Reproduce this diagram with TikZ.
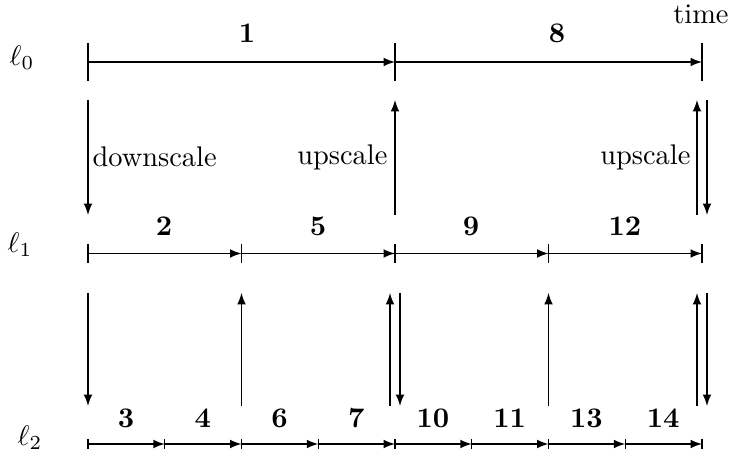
\documentclass[tikz,border=0pt]{standalone}
\usetikzlibrary{arrows}

\begin{document}
\begin{tikzpicture}[x=0.352pt, y=-0.352pt, >=latex,
  seg/.style={->},
  scalearrow/.style={->},
  lvl/.style={anchor=center, inner sep=0pt},
  idx/.style={anchor=center, inner sep=0pt, font=\bfseries},
  word/.style={inner sep=0pt}]

  %% ==== tick points of the three levels ====
  \foreach \i/\x in {0/88,1/395,2/702} \coordinate (a\i) at (\x,62);
  \foreach \i/\x in {0/88,1/241.5,2/395,3/548.5,4/702} \coordinate (b\i) at (\x,253.5);
  \foreach \i in {0,...,8} \coordinate (c\i) at (88+76.75*\i,444);

  %% ==== ticks ====
  \foreach \i in {0,1,2} \draw ([shift={(0,-19)}]a\i) -- ([shift={(0,19)}]a\i);
  \foreach \i in {0,...,4} \draw ([shift={(0,-9.5)}]b\i) -- ([shift={(0,9.5)}]b\i);
  \foreach \i in {0,...,8} \draw ([shift={(0,-5)}]c\i) -- ([shift={(0,5)}]c\i);

  %% ==== segments ====
  \draw[seg] (a0) -- (a1);
  \draw[seg] (a1) -- (a2);
  \foreach \i [evaluate=\i as \j using int(\i+1)] in {0,...,3} \draw[seg] (b\i) -- (b\j);
  \foreach \i [evaluate=\i as \j using int(\i+1)] in {0,...,7} \draw[seg] (c\i) -- (c\j);

  %% ==== level names ====
  \node[lvl] (l0) at (22,58) {$\ell_0$};
  \node[lvl] (l1) at (20,245) {$\ell_1$};
  \node[lvl] (l2) at (30,438) {$\ell_2$};
  \node[word] (time) at (701,14) {time};

  %% ==== step numbers ====
  \node[idx] (n1) at (247,33) {1};
  \node[idx] (n8) at (557,33) {8};
  \node[idx] (n2) at (164,226) {2};
  \node[idx] (n5) at (318,226) {5};
  \node[idx] (n9) at (471,226) {9};
  \node[idx] (n12) at (625,226) {12};
  \foreach \t [count=\k from 0] in {3,4,6,7,10,11,13,14}
    \node[idx] (m\t) at (126+76.75*\k,418) {\t};

  %% ==== level changes  l0 <-> l1 ====
  \coordinate (d0t) at (88,100);  \coordinate (d0b) at (88,215);
  \coordinate (u1t) at (395,100); \coordinate (u1b) at (395,215);
  \coordinate (u2t) at (697,100); \coordinate (u2b) at (697,215);
  \coordinate (d2t) at (707,100); \coordinate (d2b) at (707,215);
  \draw[scalearrow] (d0t) -- (d0b);
  \draw[scalearrow] (u1b) -- (u1t);
  \draw[scalearrow] (u2b) -- (u2t);
  \draw[scalearrow] (d2t) -- (d2b);
  \node[word, anchor=west] (down0) at (92,157) {downscale};
  \node[word, anchor=east] (up1) at (388,157) {upscale};
  \node[word, anchor=east] (up2) at (691,157) {upscale};

  %% ==== level changes  l1 <-> l2 ====
  \coordinate (e0t) at (88,293);    \coordinate (e0b) at (88,406);
  \coordinate (e1t) at (241.5,293); \coordinate (e1b) at (241.5,406);
  \coordinate (e2t) at (390,293);   \coordinate (e2b) at (390,406);
  \coordinate (f2t) at (400,293);   \coordinate (f2b) at (400,406);
  \coordinate (e3t) at (548.5,293); \coordinate (e3b) at (548.5,406);
  \coordinate (e4t) at (697,293);   \coordinate (e4b) at (697,406);
  \coordinate (f4t) at (707,293);   \coordinate (f4b) at (707,406);
  \draw[scalearrow] (e0t) -- (e0b);
  \draw[scalearrow] (e1b) -- (e1t);
  \draw[scalearrow] (e2b) -- (e2t);
  \draw[scalearrow] (f2t) -- (f2b);
  \draw[scalearrow] (e3b) -- (e3t);
  \draw[scalearrow] (e4b) -- (e4t);
  \draw[scalearrow] (f4t) -- (f4b);

  \pgfresetboundingbox
  \path[use as bounding box] (0,0) rectangle (733,452);
\end{tikzpicture}
\end{document}
